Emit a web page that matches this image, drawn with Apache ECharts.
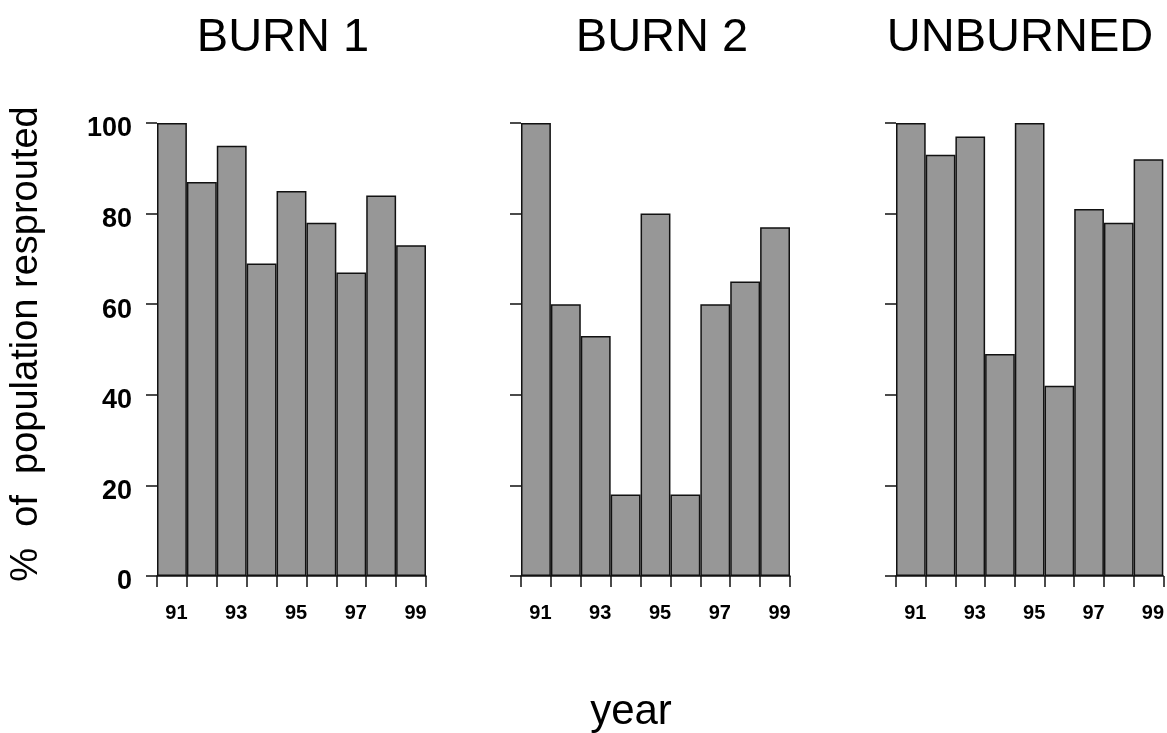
<!DOCTYPE html>
<html>
<head>
<meta charset="utf-8">
<script src="https://cdn.jsdelivr.net/npm/echarts@6/dist/echarts.min.js"></script>
<style>html,body{margin:0;padding:0;background:#fff}#c{width:1167px;height:733px}</style>
</head>
<body>
<div id="c"></div>
<script>
var years = ['91','92','93','94','95','96','97','98','99'];
var panelTitles = ['BURN 1','BURN 2','UNBURNED'];
var burn1 = [100, 87, 95, 69, 85, 78, 67, 84, 73];
var burn2 = [100, 60, 53, 18, 80, 18, 60, 65, 77];
var unburned = [100, 93, 97, 49, 100, 42, 81, 78, 92];
var yTicks = [0, 20, 40, 60, 80, 100];
var yLabel = '%  of  population resprouted';
var xLabel = 'year';

var seriesData = [burn1, burn2, unburned];
var lefts = [157, 521, 896];
var titleX = [283, 662, 1020];
var FONT = 'Liberation Sans, Arial, Helvetica, sans-serif';
var LINE = '#111';

var grids = [], xAxes = [], yAxes = [], series = [], graphics = [];
for (var i = 0; i < 3; i++) {
  grids.push({left: lefts[i], top: 123, width: 269, height: 453});
  xAxes.push({
    type: 'category', gridIndex: i, data: years, boundaryGap: true,
    axisLine: {show: true, onZero: false, lineStyle: {color: LINE, width: 1.5}},
    axisTick: {show: true, length: 11, inside: false, alignWithLabel: false, interval: 0, lineStyle: {color: LINE, width: 1.5}},
    axisLabel: {show: true, interval: 1, margin: 27, padding: [0, 0, 0, 9], color: '#000', fontFamily: FONT, fontWeight: 'bold', fontSize: 20},
    splitLine: {show: false}
  });
  yAxes.push({
    type: 'value', gridIndex: i, min: yTicks[0], max: yTicks[yTicks.length - 1], interval: yTicks[1] - yTicks[0],
    axisLine: {show: false},
    axisTick: {show: true, length: 11, lineStyle: {color: LINE, width: 1.5}},
    axisLabel: {show: i === 0, margin: 25, verticalAlign: 'top', lineHeight: 12, color: '#000', fontFamily: FONT, fontWeight: 'bold', fontSize: 27},
    splitLine: {show: false}
  });
  series.push({
    type: 'bar', xAxisIndex: i, yAxisIndex: i, data: seriesData[i],
    barWidth: '100%', barCategoryGap: 0,
    itemStyle: {color: '#979797', borderColor: LINE, borderWidth: 1.5},
    emphasis: {disabled: true}, animation: false
  });
  graphics.push({
    type: 'text', x: titleX[i], y: 38,
    style: {text: panelTitles[i], font: '47px ' + FONT, fill: '#000', align: 'center', verticalAlign: 'middle'}
  });
}
graphics.push({
  type: 'text', x: 27, y: 344, rotation: Math.PI / 2,
  style: {text: yLabel, font: '38px ' + FONT, fill: '#000', align: 'center', verticalAlign: 'middle'}
});
graphics.push({
  type: 'text', x: 631, y: 712,
  style: {text: xLabel, font: '42px ' + FONT, fill: '#000', align: 'center', verticalAlign: 'middle'}
});

var chart = echarts.init(document.getElementById('c'), null, {renderer: 'canvas'});
chart.setOption({
  animation: false,
  backgroundColor: '#fff',
  grid: grids, xAxis: xAxes, yAxis: yAxes, series: series, graphic: graphics
});
</script>
</body>
</html>
